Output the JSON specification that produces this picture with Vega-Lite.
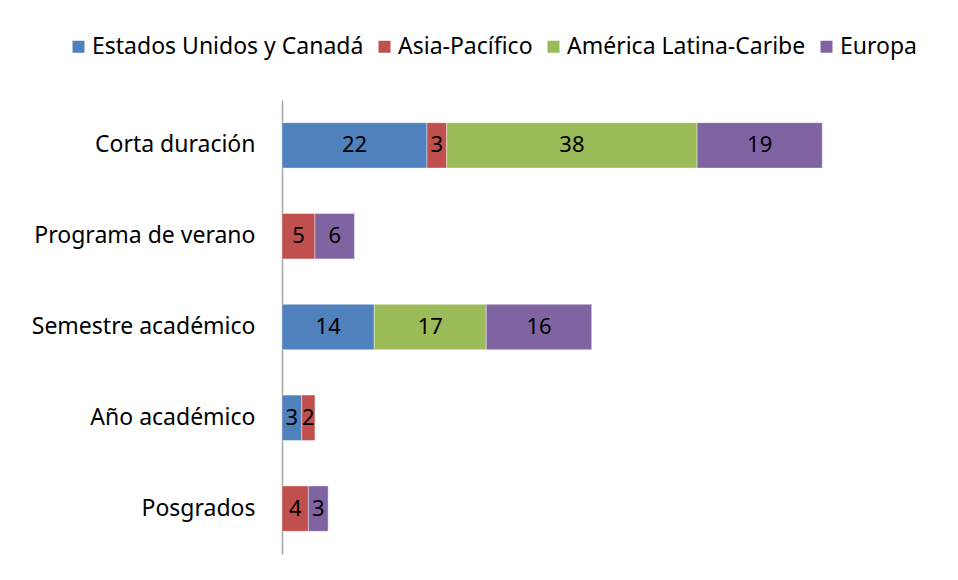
{
  "$schema": "https://vega.github.io/schema/vega-lite/v6.json",
  "autosize": {"type": "none"},
  "padding": {"left": 282, "top": 100, "right": 83, "bottom": 26},
  "width": 593,
  "height": 454,
  "background": "white",
  "config": {
    "view": {"stroke": null},
    "font": "Noto Sans"
  },
  "data": {
    "values": [
      {"cat": "Corta duración", "region": "Estados Unidos y Canadá", "v": 22},
      {"cat": "Corta duración", "region": "Asia-Pacífico", "v": 3},
      {"cat": "Corta duración", "region": "América Latina-Caribe", "v": 38},
      {"cat": "Corta duración", "region": "Europa", "v": 19},
      {"cat": "Programa de verano", "region": "Asia-Pacífico", "v": 5},
      {"cat": "Programa de verano", "region": "Europa", "v": 6},
      {"cat": "Semestre académico", "region": "Estados Unidos y Canadá", "v": 14},
      {"cat": "Semestre académico", "region": "América Latina-Caribe", "v": 17},
      {"cat": "Semestre académico", "region": "Europa", "v": 16},
      {"cat": "Año académico", "region": "Estados Unidos y Canadá", "v": 3},
      {"cat": "Año académico", "region": "Asia-Pacífico", "v": 2},
      {"cat": "Posgrados", "region": "Asia-Pacífico", "v": 4},
      {"cat": "Posgrados", "region": "Europa", "v": 3}
    ]
  },
  "transform": [
    {"calculate": "indexof(['Estados Unidos y Canadá','Asia-Pacífico','América Latina-Caribe','Europa'], datum.region)", "as": "k"},
    {"stack": "v", "groupby": ["cat"], "sort": [{"field": "k", "order": "ascending"}], "as": ["x0", "x1"]},
    {"calculate": "(datum.x0 + datum.x1) / 2", "as": "xm"}
  ],
  "encoding": {
    "y": {
      "field": "cat",
      "type": "nominal",
      "sort": ["Corta duración", "Programa de verano", "Semestre académico", "Año académico", "Posgrados"],
      "scale": {"paddingInner": 0.5, "paddingOuter": 0.25},
      "axis": {
        "title": null,
        "ticks": false,
        "labelPadding": 27,
        "labelFontSize": 23,
        "labelLimit": 0,
        "labelColor": "#000000",
        "labelFont": "Noto Sans",
        "domainColor": "#a6a6a6",
        "domainWidth": 1.5
      }
    }
  },
  "layer": [
    {
      "mark": {"type": "bar", "stroke": "white", "strokeOpacity": 0.4, "strokeWidth": 1},
      "encoding": {
        "x": {"field": "x0", "type": "quantitative", "scale": {"domain": [0, 90], "nice": false}, "axis": null},
        "x2": {"field": "x1"},
        "color": {
          "field": "region",
          "type": "nominal",
          "scale": {
            "domain": ["Estados Unidos y Canadá", "Asia-Pacífico", "América Latina-Caribe", "Europa"],
            "range": ["#4F81BD", "#C0504D", "#9BBB59", "#8064A2"]
          },
          "legend": {
            "title": null,
            "orient": "none",
            "direction": "horizontal",
            "legendX": -215,
            "legendY": -65,
            "symbolType": "square",
            "symbolSize": 144,
            "symbolStrokeWidth": 0,
            "labelFontSize": 23,
            "labelLimit": 0,
            "labelColor": "#000000",
            "labelFont": "Noto Sans",
            "columnPadding": 9,
            "labelOffset": 2
          }
        }
      }
    },
    {
      "mark": {"type": "text", "fontSize": 22, "color": "#000000", "align": "center", "baseline": "middle"},
      "encoding": {
        "x": {"field": "xm", "type": "quantitative"},
        "text": {"field": "v", "type": "quantitative"}
      }
    }
  ]
}
